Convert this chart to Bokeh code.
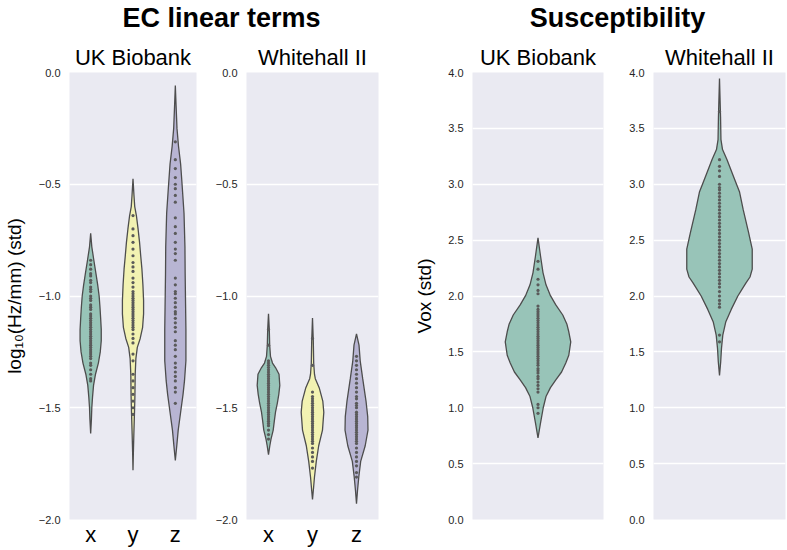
from bokeh.plotting import figure
from bokeh.models import Range1d, FixedTicker, CustomJSTickFormatter, Label
from bokeh.layouts import column, row
from bokeh.embed import file_html
from bokeh.resources import INLINE

# ---------------- data ----------------
ec_categories = ["x", "y", "z"]
ec_ticks = [-2.0, -1.5, -1.0, -0.5, 0.0]
sus_ticks = [0.0, 0.5, 1.0, 1.5, 2.0, 2.5, 3.0, 3.5, 4.0]

# violin outlines: levels (value) and half widths (category units)
uk_x_levels = [-0.72, -0.78, -0.84, -0.90, -0.95, -1.00, -1.05, -1.10, -1.15, -1.20, -1.25, -1.30, -1.35, -1.40, -1.45, -1.50, -1.55, -1.615]
uk_x_halfw = [0, 0.027, 0.075, 0.125, 0.166, 0.2, 0.22, 0.236, 0.25, 0.25, 0.227, 0.182, 0.114, 0.068, 0.045, 0.027, 0.018, 0]
uk_y_levels = [-0.476, -0.55, -0.60, -0.64, -0.70, -0.76, -0.82, -0.88, -0.95, -1.02, -1.08, -1.14, -1.19, -1.23, -1.28, -1.35, -1.45, -1.53, -1.62, -1.70, -1.78]
uk_y_halfw = [0, 0.023, 0.041, 0.08, 0.12, 0.155, 0.182, 0.211, 0.234, 0.25, 0.25, 0.227, 0.17, 0.102, 0.068, 0.052, 0.045, 0.034, 0.02, 0.009, 0]
uk_z_levels = [-0.058, -0.15, -0.25, -0.33, -0.41, -0.50, -0.63, -0.78, -0.90, -1.00, -1.15, -1.29, -1.38, -1.44, -1.52, -1.60, -1.67, -1.736]
uk_z_halfw = [0, 0.018, 0.039, 0.075, 0.125, 0.159, 0.205, 0.227, 0.232, 0.239, 0.25, 0.25, 0.216, 0.182, 0.125, 0.068, 0.034, 0]

wh_x_levels = [-1.08, -1.15, -1.22, -1.27, -1.30, -1.32, -1.35, -1.40, -1.44, -1.48, -1.52, -1.56, -1.60, -1.64, -1.67, -1.71]
wh_x_halfw = [0, 0.018, 0.027, 0.045, 0.091, 0.159, 0.239, 0.257, 0.234, 0.2, 0.159, 0.132, 0.107, 0.057, 0.03, 0]
wh_y_levels = [-1.098, -1.2, -1.3, -1.35, -1.37, -1.41, -1.47, -1.52, -1.60, -1.67, -1.74, -1.81, -1.86, -1.91]
wh_y_halfw = [0, 0.018, 0.027, 0.045, 0.064, 0.152, 0.234, 0.257, 0.227, 0.141, 0.086, 0.045, 0.023, 0]
wh_z_levels = [-1.169, -1.22, -1.29, -1.37, -1.47, -1.54, -1.60, -1.67, -1.74, -1.81, -1.87, -1.929]
wh_z_halfw = [0, 0.057, 0.084, 0.141, 0.216, 0.255, 0.261, 0.198, 0.095, 0.052, 0.023, 0]

uk_sus_levels = [2.52, 2.36, 2.21, 2.10, 2.003, 1.92, 1.83, 1.75, 1.68, 1.59, 1.47, 1.40, 1.32, 1.25, 1.18, 1.10, 1.0, 0.848, 0.73]
uk_sus_halfw = [0, 0.019, 0.038, 0.061, 0.095, 0.136, 0.189, 0.22, 0.235, 0.25, 0.235, 0.212, 0.18, 0.136, 0.095, 0.061, 0.04, 0.017, 0]
wh_sus_levels = [3.947, 3.6, 3.40, 3.31, 3.22, 3.07, 2.93, 2.77, 2.57, 2.42, 2.24, 2.17, 2.12, 2.06, 2.0, 1.88, 1.77, 1.65, 1.53, 1.41, 1.29]
wh_sus_halfw = [0, 0.008, 0.011, 0.023, 0.057, 0.106, 0.152, 0.18, 0.22, 0.248, 0.248, 0.231, 0.202, 0.17, 0.139, 0.089, 0.048, 0.025, 0.015, 0.009, 0]

# individual observations (inner points)
uk_x_pts = [-0.84, -0.86, -0.88, -0.90, -0.91, -0.93, -0.94, -0.96, -0.97, -0.98, -1.00, -1.01, -1.02, -1.04, -1.05, -1.06,
            -1.08, -1.09, -1.10, -1.11, -1.12, -1.13, -1.14, -1.15, -1.16, -1.17, -1.18, -1.19, -1.20, -1.21, -1.22, -1.23,
            -1.24, -1.25, -1.26, -1.27, -1.28, -1.30, -1.31, -1.33, -1.35, -1.37, -1.38]
uk_y_pts = [-0.64, -0.70, -0.73, -0.76, -0.79, -0.82, -0.85, -0.87, -0.89, -0.92, -0.94, -0.96, -0.98, -0.99, -1.00, -1.01,
            -1.02, -1.03, -1.04, -1.05, -1.06, -1.07, -1.08, -1.09, -1.10, -1.11, -1.12, -1.13, -1.14, -1.15, -1.17, -1.19,
            -1.21, -1.26, -1.29, -1.35, -1.38, -1.41, -1.44, -1.47, -1.50, -1.53]
uk_z_pts = [-0.31, -0.39, -0.43, -0.47, -0.50, -0.52, -0.55, -0.58, -0.65, -0.69, -0.72, -0.76, -0.79, -0.81, -0.84, -0.92,
            -0.95, -0.98, -0.99, -1.01, -1.03, -1.05, -1.07, -1.08, -1.10, -1.12, -1.14, -1.16, -1.20, -1.22, -1.24, -1.27,
            -1.30, -1.32, -1.34, -1.36, -1.38, -1.41, -1.43, -1.48]
wh_x_pts = [-1.15, -1.22, -1.29, -1.30, -1.31, -1.32, -1.33, -1.34, -1.35, -1.36, -1.37, -1.38, -1.39, -1.40, -1.41, -1.42,
            -1.43, -1.44, -1.45, -1.46, -1.47, -1.48, -1.49, -1.50, -1.51, -1.52, -1.53, -1.54, -1.55, -1.56, -1.57, -1.58,
            -1.60, -1.62, -1.64]
wh_y_pts = [-1.19, -1.31, -1.43, -1.45, -1.46, -1.47, -1.48, -1.49, -1.50, -1.51, -1.52, -1.53, -1.54, -1.55, -1.56, -1.57,
            -1.58, -1.59, -1.60, -1.61, -1.62, -1.63, -1.64, -1.65, -1.66, -1.68, -1.70, -1.72, -1.74, -1.77]
wh_z_pts = [-1.27, -1.29, -1.31, -1.33, -1.35, -1.37, -1.39, -1.41, -1.43, -1.45, -1.46, -1.48, -1.49, -1.50, -1.52, -1.53,
            -1.54, -1.55, -1.56, -1.57, -1.58, -1.59, -1.60, -1.61, -1.62, -1.63, -1.64, -1.65, -1.66, -1.68, -1.70, -1.72,
            -1.74, -1.76, -1.79, -1.81]
uk_sus_pts = [2.31, 2.24, 2.15, 2.10, 2.05, 2.02, 1.91, 1.88, 1.86, 1.84, 1.82, 1.80, 1.78, 1.76, 1.74, 1.72, 1.70, 1.68,
              1.66, 1.64, 1.62, 1.60, 1.58, 1.56, 1.54, 1.52, 1.50, 1.48, 1.46, 1.44, 1.42, 1.40, 1.38, 1.35, 1.33, 1.31,
              1.28, 1.26, 1.23, 1.20, 1.17, 1.14, 1.03, 1.00, 0.95]
wh_sus_pts = [3.65, 3.22, 3.16, 3.12, 3.07, 3.00, 2.97, 2.95, 2.92, 2.89, 2.86, 2.83, 2.80, 2.77, 2.74, 2.71, 2.68, 2.65,
              2.62, 2.59, 2.56, 2.53, 2.50, 2.47, 2.44, 2.41, 2.38, 2.35, 2.32, 2.29, 2.26, 2.23, 2.20, 2.17, 2.14, 2.11,
              2.08, 2.04, 2.00, 1.96, 1.93, 1.90, 1.65, 1.59]

# ---------------- styling ----------------
FONT = "Liberation Sans"
BG = "#EAEAF2"
EDGE = "#4d4d4d"
DOT = "#5a5a5a"
TXT = "#262626"
C_X, C_Y, C_Z = "#98c4b8", "#f2f2b2", "#b8b5d3"
STRIP_H = 36
PANEL_H = 513
TOP, BOTTOM = 36, 27

fmt = CustomJSTickFormatter(code="return tick.toFixed(1).replace('-', '\u2212');")


def make_panel(width, left, right, yr, yticks, xr, subtitle, cats=None, ylabel=None, label_standoff=10):
    p = figure(width=width, height=PANEL_H, x_range=xr, y_range=yr,
               toolbar_location=None, output_backend="svg",
               x_axis_type=("linear" if cats else None),
               min_border_left=left, min_border_right=right,
               min_border_top=TOP, min_border_bottom=BOTTOM)
    p.title.text = subtitle
    p.title.align = "center"
    p.title.text_font = FONT
    p.title.text_font_size = "22px"
    p.title.text_font_style = "normal"
    p.title.text_color = "black"
    p.title.standoff = 6
    p.background_fill_color = BG
    p.border_fill_color = "white"
    p.outline_line_color = None
    yax = p.yaxis[0]
    yax.ticker = FixedTicker(ticks=yticks)
    yax.formatter = fmt
    yax.axis_line_color = None
    yax.major_tick_line_color = None
    yax.minor_tick_line_color = None
    yax.major_tick_out = 0
    yax.major_tick_in = 0
    yax.major_label_standoff = 9
    yax.major_label_text_font = FONT
    yax.major_label_text_font_size = "11px"
    yax.major_label_text_color = TXT
    if ylabel:
        yax.axis_label = ylabel
        yax.axis_label_text_font = FONT
        yax.axis_label_text_font_size = "19px"
        yax.axis_label_text_font_style = "normal"
        yax.axis_label_text_color = "black"
        yax.axis_label_standoff = label_standoff
    p.ygrid.grid_line_color = "white"
    p.ygrid.grid_line_width = 1.3
    p.xgrid.grid_line_color = None
    if cats:
        xax = p.xaxis[0]
        xax.ticker = FixedTicker(ticks=list(range(len(cats))))
        xax.major_label_overrides = {i: c for i, c in enumerate(cats)}
        xax.axis_line_color = None
        xax.major_tick_line_color = None
        xax.minor_tick_line_color = None
        xax.major_tick_out = 0
        xax.major_tick_in = 0
        xax.major_label_standoff = 2
        xax.major_label_text_font = FONT
        xax.major_label_text_font_size = "22px"
        xax.major_label_text_color = "black"
    return p


def violin(p, center, levels, halfw, pts, color):
    xs = [center + w for w in halfw] + [center - w for w in reversed(halfw)]
    ys = list(levels) + list(reversed(levels))
    p.patch(xs, ys, fill_color=color, line_color=EDGE, line_width=1.3)
    p.scatter([center] * len(pts), pts, size=3.2, fill_color=DOT, line_color=None)


p1 = make_panel(200, 64, 4, Range1d(-2, 0), ec_ticks, Range1d(-0.5, 2.5), "UK Biobank", ec_categories,
                "log\u2081\u2080(Hz/mm) (std)", label_standoff=11)
violin(p1, 0, uk_x_levels, uk_x_halfw, uk_x_pts, C_X)
violin(p1, 1, uk_y_levels, uk_y_halfw, uk_y_pts, C_Y)
violin(p1, 2, uk_z_levels, uk_z_halfw, uk_z_pts, C_Z)

p2 = make_panel(180, 46, 2, Range1d(-2, 0), ec_ticks, Range1d(-0.5, 2.5), "Whitehall II", ec_categories)
violin(p2, 0, wh_x_levels, wh_x_halfw, wh_x_pts, C_X)
violin(p2, 1, wh_y_levels, wh_y_halfw, wh_y_pts, C_Y)
violin(p2, 2, wh_z_levels, wh_z_halfw, wh_z_pts, C_Z)

p3 = make_panel(232, 92, 9, Range1d(0, 4), sus_ticks, Range1d(-0.5, 0.5), "UK Biobank", None, "Vox (std)")
violin(p3, 0, uk_sus_levels, uk_sus_halfw, uk_sus_pts, C_X)

p4 = make_panel(174, 41, 1, Range1d(0, 4), sus_ticks, Range1d(-0.5, 0.5), "Whitehall II")
violin(p4, 0, wh_sus_levels, wh_sus_halfw, wh_sus_pts, C_X)

# ---------------- title strip ----------------
strip = figure(width=786, height=STRIP_H, x_range=Range1d(0, 786), y_range=Range1d(0, STRIP_H),
               toolbar_location=None, output_backend="svg", x_axis_type=None, y_axis_type=None,
               min_border_left=0, min_border_right=0, min_border_top=0, min_border_bottom=0)
strip.outline_line_color = None
strip.background_fill_color = "white"
strip.border_fill_color = "white"
strip.xgrid.visible = False
strip.ygrid.visible = False


def lab(x, y, text, size, style="normal"):
    strip.add_layout(Label(x=x, y=y, x_units="screen", y_units="screen", text=text,
                           text_align="center", text_baseline="alphabetic",
                           text_font=FONT, text_font_size=size, text_font_style=style,
                           text_color="black"))


lab(221, 19, "EC linear terms", "27px", "bold")
lab(617, 19, "Susceptibility", "27px", "bold")

layout = column(strip, row(p1, p2, p3, p4, spacing=0), spacing=0)

open("out.html", "w").write(file_html(layout, INLINE))
